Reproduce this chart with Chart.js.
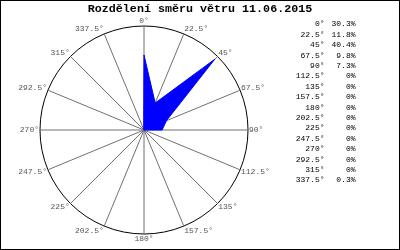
<!DOCTYPE html>
<html>
<head>
<meta charset="utf-8">
<script src="https://cdn.jsdelivr.net/npm/chart.js@4"></script>
<style>
  body { margin: 0; background: #fff; }
  #wrap { width: 400px; height: 250px; }
</style>
</head>
<body>
<div id="wrap"><canvas id="myChart" width="400" height="250"></canvas></div>
<script>
const title = 'Rozdělení směru větru 11.06.2015'
const directions = ['0°', '22.5°', '45°', '67.5°', '90°', '112.5°', '135°', '157.5°',
    '180°', '202.5°', '225°', '247.5°', '270°', '292.5°', '315°', '337.5°']
const shares = [30.3, 11.8, 40.4, 9.8, 7.3, 0, 0, 0, 0, 0, 0, 0, 0, 0, 0, 0.3]
const scaleMax = 42

const monoFont = '"Liberation Mono", "DejaVu Sans Mono", monospace'

// title, frame, direction labels and the table on the right
const extras = {
    id: 'extras',
    afterDraw(chart) {
        const ctx = chart.ctx
        const r = chart.scales.r
        ctx.save()
        ctx.strokeStyle = '#000'
        ctx.lineWidth = 1
        ctx.strokeRect(0.5, 0.5, 399, 249)

        ctx.fillStyle = '#000'
        ctx.font = 'bold 11.7px ' + monoFont
        ctx.textAlign = 'center'
        ctx.textBaseline = 'middle'
        ctx.fillText(title, 200, 9)

        // direction labels around the circle
        ctx.font = '8px ' + monoFont
        ctx.fillStyle = '#555'
        ctx.textBaseline = 'middle'
        for (let i = 0; i < directions.length; i++) {
            const px = r.getPointPosition(i, r.drawingArea + 1)
            const py = r.getPointPosition(i, r.drawingArea + 5)
            const deg = i * 22.5
            let align = 'center'
            if (deg > 0 && deg < 180) align = 'left'
            else if (deg > 180) align = 'right'
            ctx.textAlign = align
            ctx.fillText(directions[i], px.x, py.y)
        }

        // table
        ctx.fillStyle = '#000'
        ctx.textAlign = 'right'
        for (let i = 0; i < directions.length; i++) {
            const y = 24.3 + i * 10.4
            ctx.fillText(directions[i], 324.5, y)
            ctx.fillText(shares[i] + '%', 355.5, y)
        }
        ctx.restore()
    }
}

const ctx = document.getElementById('myChart')
const myChart = new Chart(ctx, {
    type: 'radar',
    data: {
        labels: directions,
        datasets: [{
            data: shares,
            backgroundColor: '#0000ff',
            borderColor: '#0000ff',
            borderWidth: 1,
            pointRadius: 0,
            fill: true,
            tension: 0
        }]
    },
    options: {
        responsive: false,
        animation: false,
        layout: {
            padding: {left: 40, top: 26, right: 152, bottom: 16}
        },
        plugins: {
            legend: {display: false},
            tooltip: {enabled: false},
            title: {display: false}
        },
        scales: {
            r: {
                min: 0,
                max: scaleMax,
                ticks: {display: false, stepSize: scaleMax},
                pointLabels: {display: false},
                grid: {color: '#000', lineWidth: 1, circular: true},
                angleLines: {color: '#707070', lineWidth: 1}
            }
        }
    },
    plugins: [extras]
})
</script>
</body>
</html>
